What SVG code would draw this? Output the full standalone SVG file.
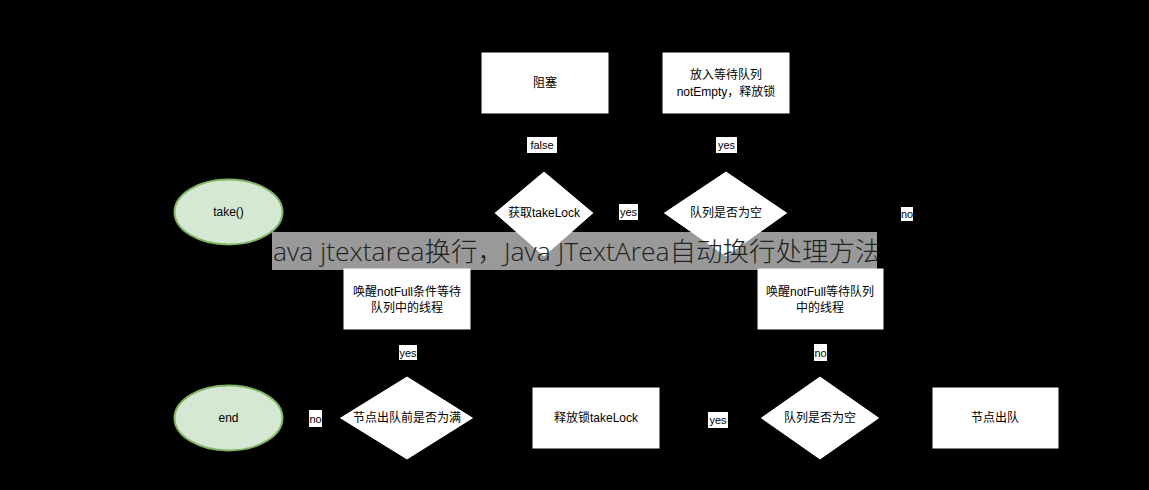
<svg xmlns="http://www.w3.org/2000/svg" width="1149" height="490" viewBox="0 0 1149 490">
<style>
.bg{fill:#000}
.box{fill:#fff;stroke:#000;stroke-width:1}
.term{fill:#d5e8d4;stroke:#82b366;stroke-width:2}
.t{font-family:"Liberation Sans","Noto Sans CJK SC",sans-serif;font-size:12px;fill:#000;text-anchor:middle;dominant-baseline:central}
.lbl{fill:#fff}
.lt{font-family:"Liberation Sans","Noto Sans CJK SC",sans-serif;font-size:11px;fill:#000;text-anchor:middle;dominant-baseline:central}
.edge{fill:none;stroke:#000;stroke-width:1}
.banner{fill:#fff;fill-opacity:0.6}
.bt{font-family:"Open Sans","Noto Sans CJK SC",sans-serif;font-weight:300;font-size:26.5px;fill:#222}
</style>
<defs>
<marker id="arr" markerWidth="8" markerHeight="8" refX="7" refY="4" orient="auto" markerUnits="userSpaceOnUse">
<path d="M0,0 L8,4 L0,8 L2,4 Z" fill="#000"/>
</marker>
<clipPath id="bclip"><rect x="272" y="232" width="605" height="38"/></clipPath>
</defs>
<rect class="bg" x="0" y="0" width="1149" height="490"/>
<g id="connectors">
<path class="edge" marker-end="url(#arr)" d="M283,212 L494,213"/>
<path class="edge" marker-end="url(#arr)" d="M544,171 L544,114"/>
<path class="edge" marker-end="url(#arr)" d="M594,213 L663,213"/>
<path class="edge" marker-end="url(#arr)" d="M726,171 L726,114"/>
<path class="edge" marker-end="url(#arr)" d="M788,213 L995,213 L995,387"/>
<path class="edge" marker-end="url(#arr)" d="M932,418 L880,418"/>
<path class="edge" marker-end="url(#arr)" d="M820,376 L820,330"/>
<path class="edge" marker-end="url(#arr)" d="M760,418 L660,418"/>
<path class="edge" marker-end="url(#arr)" d="M532,418 L474,418"/>
<path class="edge" marker-end="url(#arr)" d="M407,376 L407,330"/>
<path class="edge" marker-end="url(#arr)" d="M339,418 L283,418"/>
</g>
<g id="take">
<ellipse class="term" cx="228.5" cy="212" rx="54" ry="32.5"/>
<text class="t" x="228.5" y="212">take()</text>
</g>
<g id="block">
<rect class="box" x="481" y="52" width="128" height="62"/>
<text class="t" x="545" y="83">阻塞</text>
</g>
<g id="enqueueWait">
<rect class="box" x="662" y="52" width="128" height="62"/>
<text class="t" x="726" y="75">放入等待队列</text>
<text class="t" x="726" y="92">notEmpty，释放锁</text>
</g>
<g id="getLock">
<polygon class="box" points="544,171 594,213 544,257 494,213"/>
<text class="t" x="544" y="213">获取takeLock</text>
</g>
<g id="isEmpty1">
<polygon class="box" points="726,171 788,213 726,257 663,213"/>
<text class="t" x="726" y="213">队列是否为空</text>
</g>
<g id="signalNotFull1">
<rect class="box" x="343" y="268" width="128" height="62"/>
<text class="t" x="407" y="292">唤醒notFull条件等待</text>
<text class="t" x="407" y="308">队列中的线程</text>
</g>
<g id="signalNotFull2">
<rect class="box" x="757" y="268" width="127" height="62"/>
<text class="t" x="820" y="292">唤醒notFull等待队列</text>
<text class="t" x="820" y="308">中的线程</text>
</g>
<g id="end">
<ellipse class="term" cx="228.5" cy="418" rx="54" ry="32.5"/>
<text class="t" x="228.5" y="418">end</text>
</g>
<g id="wasFull">
<polygon class="box" points="407,376 474,418 407,460 339,418"/>
<text class="t" x="407" y="418">节点出队前是否为满</text>
</g>
<g id="releaseLock">
<rect class="box" x="532" y="387" width="128" height="62"/>
<text class="t" x="596" y="418">释放锁takeLock</text>
</g>
<g id="isEmpty2">
<polygon class="box" points="820,376 880,418 820,460 760,418"/>
<text class="t" x="820" y="418">队列是否为空</text>
</g>
<g id="dequeue">
<rect class="box" x="932" y="387" width="127" height="62"/>
<text class="t" x="995" y="418">节点出队</text>
</g>
<g id="labels">
<rect class="lbl" x="527" y="137" width="30" height="16"/><text class="lt" x="542" y="145">false</text>
<rect class="lbl" x="619" y="204" width="19" height="16"/><text class="lt" x="628.5" y="212">yes</text>
<rect class="lbl" x="716" y="137" width="21" height="16"/><text class="lt" x="726.5" y="145">yes</text>
<rect class="lbl" x="901" y="207" width="12" height="14"/><text class="lt" x="907" y="214">no</text>
<rect class="lbl" x="399" y="345" width="18" height="15"/><text class="lt" x="408" y="352.5">yes</text>
<rect class="lbl" x="814" y="344" width="13" height="17"/><text class="lt" x="820.5" y="352.5">no</text>
<rect class="lbl" x="309" y="410" width="13" height="17"/><text class="lt" x="315.5" y="418.5">no</text>
<rect class="lbl" x="708" y="412" width="20" height="16"/><text class="lt" x="718" y="420">yes</text>
</g>
<g id="banner">
<rect class="banner" x="272" y="232" width="605" height="38"/>
<text class="bt" x="273" y="261" clip-path="url(#bclip)">ava jtextarea换行，Java JTextArea自动换行处理方法</text>
</g>
</svg>
